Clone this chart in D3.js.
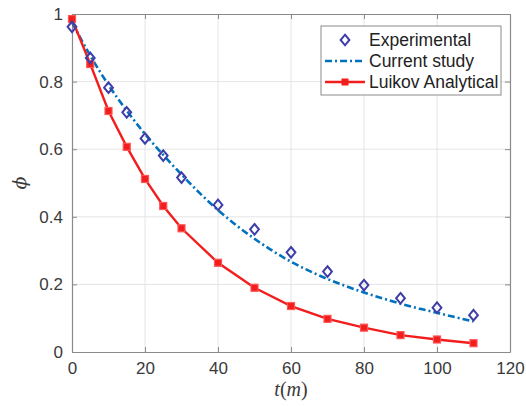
<!DOCTYPE html>
<html>
<head>
<meta charset="utf-8">
<script src="https://cdn.jsdelivr.net/npm/d3@7"></script>
<style>
  body { margin: 0; background: #fff; }
  svg { display: block; }
</style>
</head>
<body>
<svg id="chart" width="526" height="406"></svg>
<script>
// data
var xTicks = [0, 20, 40, 60, 80, 100, 120];
var yTicks = [0, 0.2, 0.4, 0.6, 0.8, 1];

var expT   = [0, 5, 10, 15, 20, 25, 30, 40, 50, 60, 70, 80, 90, 100, 110];
var expPhi = [0.962, 0.87, 0.782, 0.709, 0.632, 0.581, 0.516, 0.435, 0.363, 0.295, 0.238, 0.198, 0.159, 0.131, 0.109];

var curT   = [0, 5, 10, 15, 20, 25, 30, 35, 40, 45, 50, 55, 60, 65, 70, 75, 80, 85, 90, 95, 100, 105, 110];
var curPhi = [0.975, 0.877, 0.79, 0.714, 0.645, 0.583, 0.525, 0.47, 0.42, 0.375, 0.335, 0.299, 0.267, 0.24, 0.216, 0.195, 0.176, 0.159, 0.143, 0.129, 0.116, 0.103, 0.09];

var luiT   = [0, 5, 10, 15, 20, 25, 30, 40, 50, 60, 70, 80, 90, 100, 110];
var luiPhi = [0.985, 0.852, 0.713, 0.607, 0.512, 0.432, 0.366, 0.264, 0.19, 0.136, 0.098, 0.072, 0.05, 0.037, 0.026];

var legendNames = ["Experimental", "Current study", "Luikov Analytical"];

var svg = d3.select("#chart");
// plot box edges in pixels
var PL = 72, PR = 510, PT = 14, PB = 352;

var x = d3.scaleLinear().domain([0, 120]).range([PL, PR]);
var y = d3.scaleLinear().domain([0, 1]).range([PB, PT]);

var FONT = "'Liberation Sans', Arial, Helvetica, sans-serif";
var BLUE = "#0072BD", RED = "#f21d1d", DIA = "#3d3da8";

// grid
svg.append("g").selectAll("line").data(xTicks.slice(1, -1)).join("line")
  .attr("x1", d => x(d)).attr("x2", d => x(d)).attr("y1", PT).attr("y2", PB)
  .attr("stroke", "#e4e4e4").attr("stroke-width", 1);
svg.append("g").selectAll("line").data(yTicks.slice(1, -1)).join("line")
  .attr("y1", d => y(d)).attr("y2", d => y(d)).attr("x1", PL).attr("x2", PR)
  .attr("stroke", "#e4e4e4").attr("stroke-width", 1);

// axes (ticks inward, labels outside)
var xAxis = svg.append("g").attr("transform", "translate(0," + PB + ")")
  .call(d3.axisBottom(x).tickValues(xTicks).tickSizeInner(-5).tickSizeOuter(0).tickPadding(10));
var yAxis = svg.append("g").attr("transform", "translate(" + PL + ",0)")
  .call(d3.axisLeft(y).tickValues(yTicks).tickFormat(d3.format("")).tickSizeInner(-5).tickSizeOuter(0).tickPadding(9));
var xTop = svg.append("g").attr("transform", "translate(0," + PT + ")")
  .call(d3.axisTop(x).tickValues(xTicks).tickSizeInner(-5).tickSizeOuter(0).tickFormat(""));
var yRight = svg.append("g").attr("transform", "translate(" + PR + ",0)")
  .call(d3.axisRight(y).tickValues(yTicks).tickSizeInner(-5).tickSizeOuter(0).tickFormat(""));

[xAxis, yAxis, xTop, yRight].forEach(function(g) {
  g.select(".domain").attr("stroke", "#8a8a8a").attr("stroke-width", 1.2);
  g.selectAll(".tick line").attr("stroke", "#8a8a8a");
  g.selectAll(".tick text").attr("fill", "#3a3a3a").style("font-family", FONT).style("font-size", "17px");
});

// current study (dash-dot)
svg.append("path").datum(d3.zip(curT, curPhi))
  .attr("d", d3.line().x(d => x(d[0])).y(d => y(d[1])).curve(d3.curveMonotoneX))
  .attr("fill", "none").attr("stroke", BLUE).attr("stroke-width", 2.6)
  .attr("stroke-dasharray", "7,3,2,3");

// luikov analytical
svg.append("path").datum(d3.zip(luiT, luiPhi))
  .attr("d", d3.line().x(d => x(d[0])).y(d => y(d[1])))
  .attr("fill", "none").attr("stroke", RED).attr("stroke-width", 2.4);
svg.append("g").selectAll("rect").data(d3.zip(luiT, luiPhi)).join("rect")
  .attr("x", d => x(d[0]) - 3.5).attr("y", d => y(d[1]) - 3.5)
  .attr("width", 7).attr("height", 7)
  .attr("fill", RED).attr("stroke", "#f55").attr("stroke-width", 1.2);

// experimental diamonds
var diamond = "M0,-5.3L4.4,0L0,5.3L-4.4,0Z";
svg.append("g").selectAll("path").data(d3.zip(expT, expPhi)).join("path")
  .attr("transform", d => "translate(" + x(d[0]) + "," + y(d[1]) + ")")
  .attr("d", diamond).attr("fill", "none").attr("stroke", DIA).attr("stroke-width", 2);

// axis titles
svg.append("text").attr("x", 291).attr("y", 396).attr("text-anchor", "middle")
  .style("font-family", "'Liberation Serif', 'DejaVu Serif', serif").style("font-size", "20px")
  .attr("fill", "#3a3a3a")
  .html("<tspan font-style='italic'>t</tspan>(<tspan font-style='italic'>m</tspan>)");
svg.append("text").attr("transform", "translate(26,183) rotate(-90)")
  .attr("text-anchor", "middle")
  .style("font-family", "'DejaVu Serif', 'Liberation Serif', serif").style("font-size", "19px")
  .style("font-style", "italic").attr("fill", "#3a3a3a").text("\u03d5");

// legend
var lg = svg.append("g");
lg.append("rect").attr("x", 321).attr("y", 26).attr("width", 180).attr("height", 69)
  .attr("fill", "#fff").attr("stroke", "#8a8a8a").attr("stroke-width", 1);
var rows = [40, 61, 82];
legendNames.forEach(function(name, i) {
  var ry = rows[i];
  if (i === 0) {
    lg.append("path").attr("transform", "translate(345," + ry + ")").attr("d", diamond)
      .attr("fill", "none").attr("stroke", DIA).attr("stroke-width", 2);
  } else if (i === 1) {
    lg.append("line").attr("x1", 325).attr("x2", 365).attr("y1", ry).attr("y2", ry)
      .attr("stroke", BLUE).attr("stroke-width", 2.6).attr("stroke-dasharray", "7,3,2,3");
  } else {
    lg.append("line").attr("x1", 325).attr("x2", 365).attr("y1", ry).attr("y2", ry)
      .attr("stroke", RED).attr("stroke-width", 2.4);
    lg.append("rect").attr("x", 341.5).attr("y", ry - 3.5).attr("width", 7).attr("height", 7)
      .attr("fill", RED);
  }
  lg.append("text").attr("x", 369).attr("y", ry + 6).text(name)
    .style("font-family", FONT).style("font-size", "17.5px").attr("fill", "#222");
});
</script>
</body>
</html>
